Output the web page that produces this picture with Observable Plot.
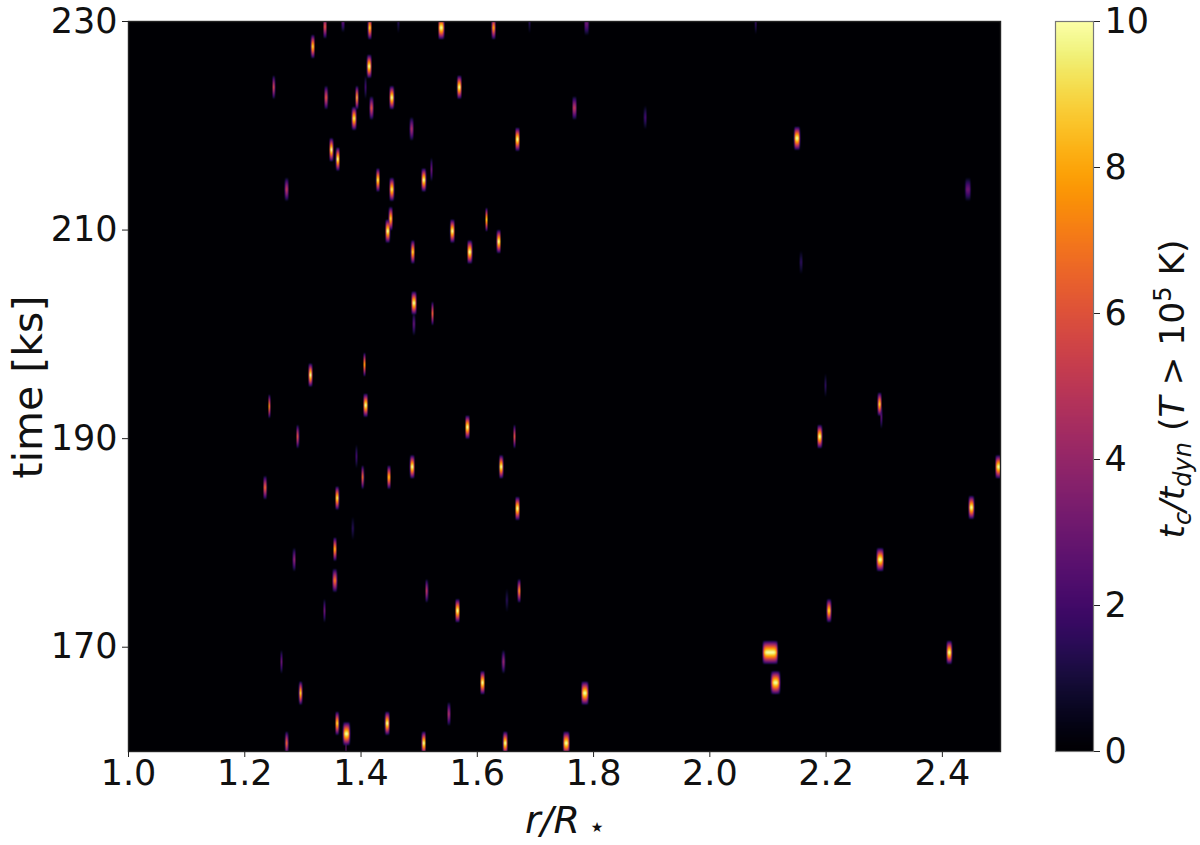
<!DOCTYPE html>
<html><head><meta charset="utf-8">
<script src="https://cdn.jsdelivr.net/npm/d3@7"></script>
<script src="https://cdn.jsdelivr.net/npm/@observablehq/plot@0.6"></script>
<style>
html,body{margin:0;padding:0;background:#fff}
#wrap{position:relative;width:1200px;height:845px;overflow:hidden}
#wrap svg{position:absolute;top:0;overflow:visible}
</style></head><body><div id="wrap"></div>
<script>
const xTicks=[1.0,1.2,1.4,1.6,1.8,2.0,2.2,2.4];
const yTicks=[170,190,210,230];
const cTicks=[0,2,4,6,8,10];
const radii=[1.338,1.369,1.415,1.464,1.538,1.628,1.690,1.317,1.414,1.250,1.340,1.393,1.408,1.453,1.569,1.418,1.388,1.487,1.669,1.349,1.360,1.521,1.429,1.508,1.272,1.453,1.451,1.616,1.446,1.557,1.637,1.489,1.587,1.491,1.523,1.491,1.406,1.313,1.242,1.408,1.583,1.664,1.291,1.392,1.403,1.448,1.488,1.641,1.235,1.359,1.669,1.386,1.355,1.285,1.355,1.513,1.672,1.651,1.566,1.337,1.263,1.645,1.609,1.785,1.296,1.551,1.359,1.445,1.375,1.374,1.272,1.508,1.648,1.753,1.788,2.079,1.767,1.889,2.150,2.444,2.157,2.199,2.292,2.295,2.189,2.497,2.450,2.293,2.205,2.104,2.412,2.113];
const times=[229.5,230.1,229.4,230,229.4,229.4,230,227.6,225.7,223.7,222.7,222.7,223.7,222.7,223.7,221.7,220.7,219.7,218.7,217.7,216.8,215.8,214.8,214.8,213.9,213.9,211.1,211.0,209.9,209.9,208.9,207.9,207.9,203.0,202.0,201.0,197.1,196.1,193.1,193.2,191.1,190.2,190.2,188.3,186.3,186.3,187.3,187.3,185.3,184.3,183.3,181.4,179.4,178.4,176.4,175.4,175.4,174.5,173.5,173.5,168.6,168.6,166.6,165.6,165.6,163.6,162.7,162.7,161.7,160.3,160.8,160.8,160.8,160.8,229.8,229.9,221.7,220.8,218.8,213.9,206.9,195.1,193.3,192.1,190.2,187.3,183.4,178.4,173.5,169.5,169.5,166.6];
const peaks=[6,3,9,1.5,10,8,1.5,9,10,6,6,9,2,10,10,6,9.5,4.5,10,10,10,3,9.5,10,5,9.5,9,9,10,10,10,9,10,10,6.5,3,8,10,8,10,10,6,6,2,7,8.5,10,10,6.5,9.5,10,1.5,8.5,4,7,5,8,1.5,10,3,3,4,10,10,9,4.5,9,10,10,3,6.5,10,10,10,3,2,5,2,10,3,1.5,1.5,9,3,10,10,10,10,9,10,10,10];
const halfWidths=[.0034,.003,.0034,.0023,.0055,.0034,.0023,.0034,.0041,.0023,.0034,.0023,.0023,.0041,.0041,.0034,.0041,.0034,.0041,.0034,.0034,.0023,.0034,.0041,.0034,.0041,.0034,.0023,.0041,.0041,.0038,.0034,.0045,.0045,.0023,.0023,.0023,.0034,.002,.0041,.0041,.0023,.0026,.0023,.0023,.0034,.0041,.0038,.0034,.0034,.0041,.0023,.003,.0026,.0041,.0026,.0026,.0023,.0041,.0023,.0023,.003,.0041,.0065,.003,.003,.0034,.0041,.0065,.0016,.003,.0038,.0041,.0058,.0045,.0016,.0041,.003,.0055,.0055,.003,.0026,.0034,.0016,.0045,.0062,.005,.0065,.0041,.0135,.005,.0085];
const spotHalfHeight=1.18;
const yLabel="time [ks]";

function field(r,t){
  let best=0;
  for(let i=0;i<radii.length;i++){
    const dy=Math.abs(t-times[i])/spotHalfHeight; if(dy>=1) continue;
    const dx=Math.abs(r-radii[i])/halfWidths[i]; if(dx>=1) continue;
    const fx=halfWidths[i]>.01?1-Math.pow(dx,6):1-dx*dx*dx;
    const v=peaks[i]*(1-Math.pow(dy,1.3))*fx;
    if(v>best) best=v;
  }
  return best;
}

const font="'DejaVu Sans'";
const colorOpt={type:"linear",domain:[0,10],scheme:"inferno"};
const main=Plot.plot({
  width:1040,height:845,
  marginLeft:128,marginRight:40,marginTop:21,marginBottom:94,
  style:{fontFamily:font,fontSize:"35px",color:"#111",background:"transparent"},
  x:{domain:[1,2.5],label:null},
  y:{domain:[160,230],label:null},
  color:colorOpt,
  marks:[
    Plot.raster({x1:1,x2:2.5,y1:160,y2:230,pixelSize:1,fill:field}),
    Plot.axisX({ticks:xTicks,tickFormat:".1f",tickSize:6,tickPadding:3,fontSize:35,label:null,stroke:"#222"}),
    Plot.axisY({ticks:yTicks,tickSize:6,tickPadding:5,fontSize:35,label:null,stroke:"#222"}),
    Plot.frame({stroke:"#222",strokeWidth:1.4})
  ]
});
main.style.left="0px";
const bar=Plot.plot({
  width:160,height:845,
  marginLeft:15,marginRight:107,marginTop:21,marginBottom:94,
  style:{fontFamily:font,fontSize:"35px",color:"#111",background:"transparent"},
  x:{domain:[0,1],axis:null},
  y:{domain:[0,10],label:null},
  color:colorOpt,
  marks:[
    Plot.raster({x1:0,x2:1,y1:0,y2:10,pixelSize:1,fill:(x,y)=>y}),
    Plot.axisY({anchor:"right",ticks:cTicks,tickSize:6,tickPadding:5,fontSize:35,label:null,stroke:"#222"}),
    Plot.frame({stroke:"#777",strokeWidth:1.2})
  ]
});
bar.style.left="1040px";
const wrap=document.getElementById("wrap");
wrap.append(main,bar);

// axis titles with math styling
const s=d3.select(main);
s.append("text").attr("transform","translate(42,387) rotate(-90)").attr("text-anchor","middle")
  .attr("font-size",41).attr("font-family",font).attr("fill","#111").text(yLabel);
const xt=s.append("text").attr("x",525).attr("y",833).attr("text-anchor","start").attr("font-size",38).attr("font-family",font).attr("fill","#111");
xt.append("tspan").attr("font-style","italic").text("r/R");
xt.append("tspan").attr("dx",11).attr("dy",-1).attr("font-size",14).text("★");
const c=d3.select(bar);
const ct=c.append("text").attr("transform","translate(144,389) rotate(-90)").attr("text-anchor","middle")
  .attr("font-size",34.5).attr("font-family",font).attr("fill","#111");
ct.append("tspan").attr("font-style","italic").text("t");
ct.append("tspan").attr("font-style","italic").attr("font-size",24).attr("dy",7).text("c");
ct.append("tspan").attr("font-style","italic").attr("dy",-7).text("/t");
ct.append("tspan").attr("font-style","italic").attr("font-size",24).attr("dy",7).text("dyn");
ct.append("tspan").attr("dy",-7).text(" (");
ct.append("tspan").attr("font-style","italic").text("T");
ct.append("tspan").text(" > 10");
ct.append("tspan").attr("font-size",24).attr("dy",-13).text("5");
ct.append("tspan").attr("dy",13).text(" K)");
</script></body></html>
